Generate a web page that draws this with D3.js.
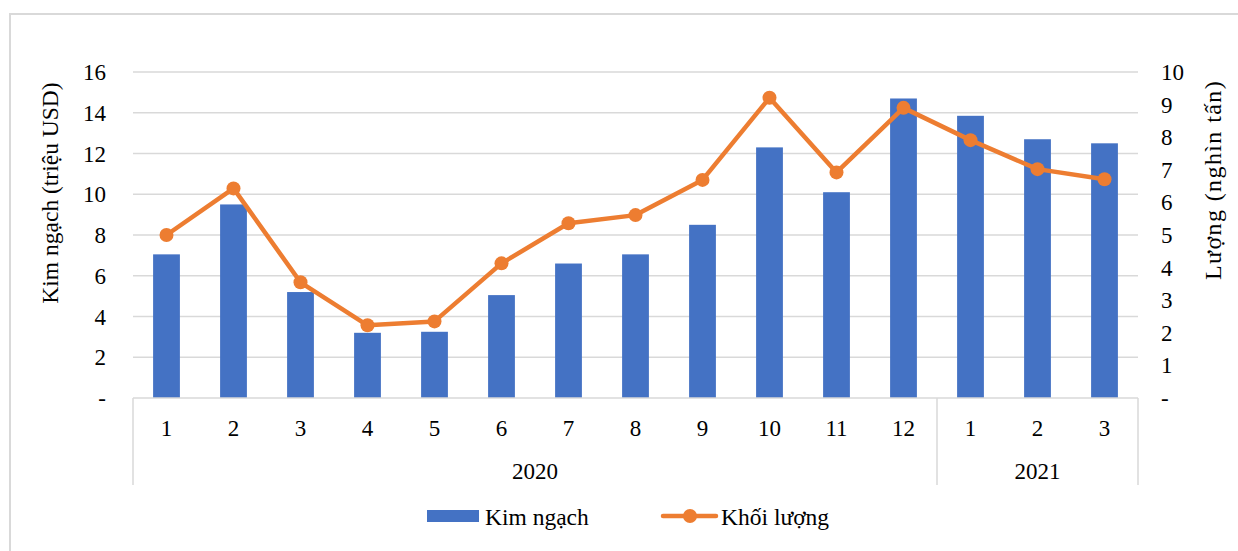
<!DOCTYPE html>
<html>
<head>
<meta charset="utf-8">
<script src="https://cdn.jsdelivr.net/npm/d3@7"></script>
<style>
  html, body { margin: 0; padding: 0; background: #fff; }
  svg { display: block; }
  text { font-family: "Liberation Serif", "Times New Roman", serif; fill: #000; }
</style>
</head>
<body>
<svg id="chart" width="1238" height="551"></svg>
<script>
// Monthly export value (million USD) and volume (thousand tonnes)
const months = ["1","2","3","4","5","6","7","8","9","10","11","12","1","2","3"];
const years = [{ label: "2020", count: 12 }, { label: "2021", count: 3 }];
const kimNgach = [7.05, 9.5, 5.2, 3.2, 3.25, 5.05, 6.6, 7.05, 8.5, 12.3, 10.1, 14.7, 13.85, 12.7, 12.5];
const khoiLuong = [5.0, 6.43, 3.55, 2.23, 2.35, 4.13, 5.36, 5.61, 6.69, 9.21, 6.92, 8.9, 7.91, 7.02, 6.71];
const leftTicks = [0, 2, 4, 6, 8, 10, 12, 14, 16];
const rightTicks = [0, 1, 2, 3, 4, 5, 6, 7, 8, 9, 10];

const BLUE = "#4472C4", ORANGE = "#ED7D31", GRID = "#D9D9D9";
const FS = 23;
const svg = d3.select("#chart");

// outer chart frame
svg.append("rect").attr("x", 10).attr("y", 14).attr("width", 1240).attr("height", 560)
  .attr("fill", "none").attr("stroke", GRID).attr("stroke-width", 2);

const plot = { left: 133, right: 1138, top: 72, bottom: 398 };
const idx = months.map((d, i) => i);

const x = d3.scaleBand().domain(idx).range([plot.left, plot.right]).paddingInner(0.6).paddingOuter(0.3);
const yL = d3.scaleLinear().domain([0, 16]).range([plot.bottom, plot.top]);
const yR = d3.scaleLinear().domain([0, 10]).range([plot.bottom, plot.top]);

// horizontal gridlines
svg.append("g").selectAll("line").data(leftTicks.filter(d => d > 0)).join("line")
  .attr("x1", plot.left).attr("x2", plot.right)
  .attr("y1", d => yL(d)).attr("y2", d => yL(d))
  .attr("stroke", GRID).attr("stroke-width", 1.5);

// left axis labels
const fmt = d => d === 0 ? "-" : String(d);
svg.append("g").selectAll("text").data(leftTicks).join("text")
  .attr("x", 106).attr("y", d => yL(d)).attr("dy", "0.35em")
  .attr("text-anchor", "end").attr("font-size", FS).text(fmt);

// right axis labels
svg.append("g").selectAll("text").data(rightTicks).join("text")
  .attr("x", 1161).attr("y", d => yR(d)).attr("dy", "0.35em")
  .attr("text-anchor", "start").attr("font-size", FS).text(fmt);

// axis titles
svg.append("text").attr("transform", "translate(50,193) rotate(-90)")
  .attr("text-anchor", "middle").attr("dominant-baseline", "central")
  .attr("font-size", 23.5).text("Kim ngạch (triệu USD)");
svg.append("text").attr("transform", "translate(1213,180) rotate(-90)")
  .attr("text-anchor", "middle").attr("dominant-baseline", "central")
  .attr("font-size", 24).attr("letter-spacing", 1.4).text("Lượng (nghìn tấn)");

// bars
svg.append("g").selectAll("rect").data(kimNgach).join("rect")
  .attr("x", (d, i) => x(i)).attr("width", x.bandwidth())
  .attr("y", d => yL(d)).attr("height", d => yL(0) - yL(d))
  .attr("fill", BLUE);

// category axis: baseline, group separators, labels
const step = (plot.right - plot.left) / months.length;
const ax = svg.append("g");
ax.append("line").attr("x1", plot.left).attr("x2", plot.right)
  .attr("y1", plot.bottom).attr("y2", plot.bottom).attr("stroke", GRID).attr("stroke-width", 1.5);
let acc = 0;
const bounds = [0];
years.forEach(y => { acc += y.count; bounds.push(acc); });
ax.selectAll("line.sep").data(bounds).join("line").attr("class", "sep")
  .attr("x1", b => plot.left + b * step).attr("x2", b => plot.left + b * step)
  .attr("y1", plot.bottom).attr("y2", 485).attr("stroke", GRID).attr("stroke-width", 1.5);
ax.selectAll("text.m").data(months).join("text").attr("class", "m")
  .attr("x", (d, i) => x(i) + x.bandwidth() / 2).attr("y", 428).attr("dy", "0.35em")
  .attr("text-anchor", "middle").attr("font-size", FS).text(d => d);
ax.selectAll("text.y").data(years).join("text").attr("class", "y")
  .attr("x", (d, i) => plot.left + (bounds[i] + bounds[i + 1]) / 2 * step)
  .attr("y", 471).attr("dy", "0.35em")
  .attr("text-anchor", "middle").attr("font-size", FS).text(d => d.label);

// volume line with markers
const cx = i => x(i) + x.bandwidth() / 2;
const line = d3.line().x((d, i) => cx(i)).y(d => yR(d));
svg.append("path").datum(khoiLuong).attr("d", line)
  .attr("fill", "none").attr("stroke", ORANGE).attr("stroke-width", 4.5).attr("stroke-linejoin", "round");
svg.append("g").selectAll("circle").data(khoiLuong).join("circle")
  .attr("cx", (d, i) => cx(i)).attr("cy", d => yR(d)).attr("r", 7).attr("fill", ORANGE);

// legend
const lg = svg.append("g");
lg.append("rect").attr("x", 427).attr("y", 510).attr("width", 52).attr("height", 12).attr("fill", BLUE);
lg.append("text").attr("x", 485).attr("y", 517).attr("dy", "0.35em").attr("font-size", 23.5).text("Kim ngạch");
lg.append("line").attr("x1", 663).attr("x2", 716).attr("y1", 516).attr("y2", 516)
  .attr("stroke", ORANGE).attr("stroke-width", 4.5).attr("stroke-linecap", "round");
lg.append("circle").attr("cx", 690).attr("cy", 516).attr("r", 7).attr("fill", ORANGE);
lg.append("text").attr("x", 721).attr("y", 517).attr("dy", "0.35em").attr("font-size", 23.5).text("Khối lượng");
</script>
</body>
</html>
